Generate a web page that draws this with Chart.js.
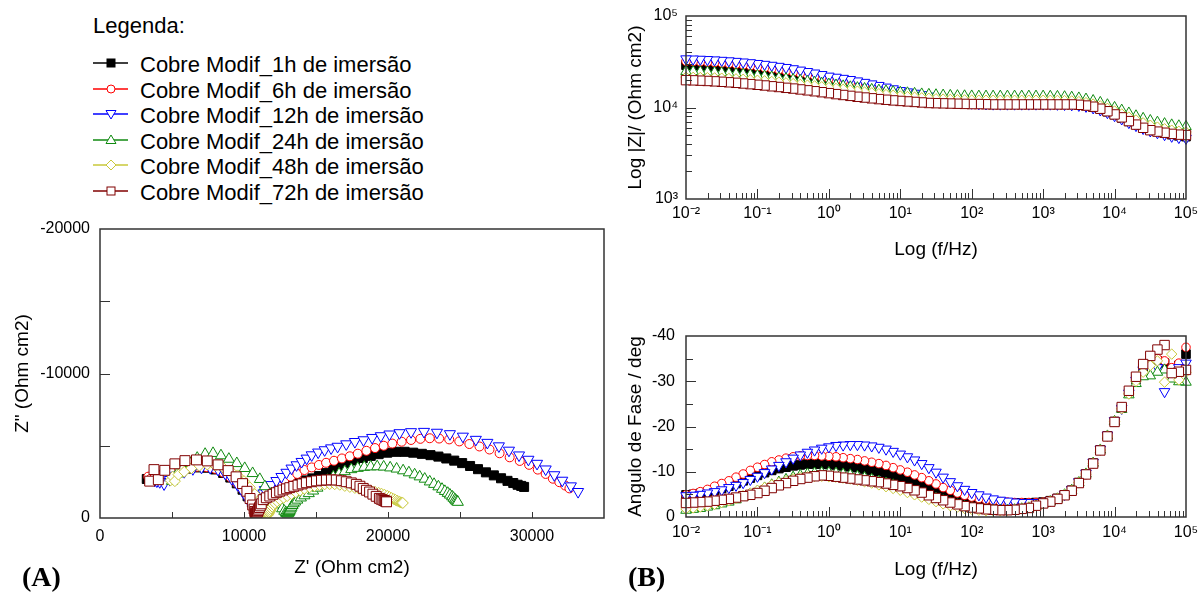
<!DOCTYPE html>
<html>
<head>
<meta charset="utf-8">
<script src="https://cdn.jsdelivr.net/npm/chart.js@4.4.1/dist/chart.umd.min.js"></script>
<style>
  body { margin: 0; width: 1198px; height: 592px; background: #fff; position: relative; overflow: hidden;
         font-family: "Liberation Sans", Arial, sans-serif; color: #000; }
  canvas { position: absolute; }
  .leg { position: absolute; height: 26px; line-height: 26px; font-size: 22px; white-space: nowrap; }
  .leg svg { position: absolute; left: 0; top: 1px; }
  .leg span { position: absolute; left: 47px; top: 0; }
  .tag { position: absolute; font: bold 28px "Liberation Serif", "Times New Roman", serif; line-height: 28px; }
</style>
</head>
<body>
<div id="legend"></div>
<canvas id="nyquist" width="620" height="387" style="left:0;top:205px"></canvas>
<canvas id="bodeMod" width="578" height="290" style="left:620px;top:0"></canvas>
<canvas id="bodePhase" width="578" height="292" style="left:620px;top:300px"></canvas>
<div class="tag" style="left:22px;top:563px">(A)</div>
<div class="tag" style="left:628px;top:563px">(B)</div>

<script>
// ---- series ----
const SERIES_LABELS = ['Cobre Modif_1h de imersão', 'Cobre Modif_6h de imersão', 'Cobre Modif_12h de imersão',
                       'Cobre Modif_24h de imersão', 'Cobre Modif_48h de imersão', 'Cobre Modif_72h de imersão'];
const SERIES_COLORS = ['#000000', '#ff0000', '#0000ff', '#108a10', '#c8c83a', '#800000'];
const SERIES_STYLES = ['rect', 'circle', 'triangle', 'triangle', 'rectRot', 'rect'];
const SERIES_ROTATION = [0, 0, 180, 0, 0, 0];
const SERIES_FILLED = [true, false, false, false, false, false];
const SERIES_RADIUS = [6.4, 4.5, 6.4, 6.4, 5.5, 7];

// ---- frequencies (Hz), high to low ----
const FREQ = [100000, 79430, 63100, 50120, 39810, 31620, 25120, 19950, 15850, 12590,
  10000, 7943, 6310, 5012, 3981, 3162, 2512, 1995, 1585, 1259,
  1000, 794.3, 631.0, 501.2, 398.1, 316.2, 251.2, 199.5, 158.5, 125.9,
  100, 79.43, 63.10, 50.12, 39.81, 31.62, 25.12, 19.95, 15.85, 12.59,
  10, 7.943, 6.310, 5.012, 3.981, 3.162, 2.512, 1.995, 1.585, 1.259,
  1, 0.7943, 0.6310, 0.5012, 0.3981, 0.3162, 0.2512, 0.1995, 0.1585, 0.1259,
  0.1, 0.07943, 0.06310, 0.05012, 0.03981, 0.03162, 0.02512, 0.01995, 0.01585, 0.01259,
  0.01];

// ---- |Z| (Ohm cm2) ----
const ZMOD_1H = [4800, 4900, 5050, 5250, 5500, 5750, 6100, 6550, 7050, 7700,
  8350, 9000, 9600, 10100, 10500, 10750, 10900, 11000, 11050, 11100,
  11100, 11100, 11100, 11100, 11100, 11100, 11100, 11150, 11150, 11200,
  11250, 11350, 11500, 11700, 11950, 12250, 12600, 13000, 13450, 13900,
  14400, 14950, 15500, 16050, 16650, 17250, 17850, 18450, 19050, 19700,
  20300, 20950, 21600, 22250, 22850, 23450, 24050, 24650, 25200, 25700,
  26200, 26650, 27050, 27400, 27750, 28050, 28300, 28500, 28700, 28850,
  29000];
const ZMOD_6H = [4800, 4900, 5050, 5250, 5500, 5750, 6100, 6550, 7050, 7700,
  8350, 9000, 9600, 10100, 10500, 10750, 10900, 11000, 11050, 11100,
  11100, 11100, 11100, 11100, 11100, 11100, 11100, 11100, 11150, 11200,
  11300, 11400, 11550, 11750, 12000, 12300, 12650, 13050, 13500, 14000,
  14500, 15050, 15600, 16200, 16800, 17400, 18050, 18700, 19350, 20000,
  20700, 21400, 22100, 22850, 23600, 24350, 25100, 25850, 26550, 27250,
  27900, 28550, 29150, 29700, 30200, 30650, 31050, 31350, 31600, 31800,
  32000];
const ZMOD_12H = [4600, 4700, 4850, 5050, 5300, 5550, 5900, 6350, 6850, 7500,
  8150, 8800, 9400, 9900, 10300, 10550, 10700, 10800, 10850, 10900,
  10900, 10900, 10900, 10900, 10900, 10900, 10900, 10900, 10950, 11000,
  11150, 11350, 11600, 11950, 12350, 12800, 13300, 13800, 14300, 14800,
  15300, 16000, 16700, 17400, 18100, 18800, 19500, 20200, 20800, 21400,
  22000, 22900, 23800, 24700, 25600, 26500, 27350, 28150, 28900, 29600,
  30250, 30850, 31400, 31900, 32350, 32750, 33100, 33400, 33650, 33850,
  34000];
const ZMOD_24H = [6200, 6300, 6450, 6650, 6900, 7200, 7600, 8100, 8700, 9350,
  10000, 10700, 11350, 11900, 12350, 12700, 12950, 13100, 13200, 13250,
  13300, 13300, 13300, 13300, 13300, 13300, 13300, 13300, 13300, 13300,
  13350, 13400, 13450, 13550, 13650, 13750, 13900, 14050, 14250, 14450,
  14650, 14900, 15150, 15450, 15750, 16100, 16450, 16800, 17200, 17600,
  18000, 18400, 18850, 19300, 19750, 20200, 20650, 21100, 21550, 22000,
  22400, 22800, 23150, 23450, 23750, 24000, 24200, 24400, 24550, 24700,
  24800];
const ZMOD_48H = [5400, 5500, 5650, 5850, 6100, 6400, 6800, 7300, 7850, 8500,
  9150, 9800, 10400, 10900, 11300, 11600, 11800, 11900, 11950, 12000,
  12000, 12000, 12000, 12000, 12000, 12000, 12000, 12000, 12000, 12000,
  12050, 12100, 12150, 12250, 12350, 12450, 12600, 12750, 12950, 13150,
  13350, 13600, 13850, 14150, 14450, 14750, 15100, 15450, 15800, 16150,
  16500, 16850, 17200, 17550, 17900, 18250, 18600, 18950, 19250, 19550,
  19850, 20100, 20350, 20550, 20750, 20900, 21050, 21150, 21250, 21350,
  21400];
const ZMOD_72H = [5000, 5050, 5150, 5300, 5450, 5650, 6000, 6500, 7100, 7800,
  8400, 9100, 9700, 10200, 10500, 10700, 10800, 10800, 10800, 10800,
  10800, 10800, 10800, 10800, 10800, 10800, 10800, 10800, 10850, 10900,
  10900, 10950, 11000, 11050, 11100, 11150, 11200, 11350, 11500, 11650,
  11800, 11950, 12150, 12350, 12600, 12850, 13100, 13400, 13700, 14000,
  14350, 14700, 15050, 15400, 15750, 16100, 16400, 16750, 17050, 17400,
  17700, 18000, 18300, 18600, 18850, 19100, 19300, 19500, 19650, 19800,
  19900];

// ---- phase angle (deg) ----
const PHASE_1H = [-36.0, -33.5, -32.5, -34.0, -34.5, -34.0, -32.8, -30.4, -27.5, -24.1,
  -21.1, -17.9, -14.8, -11.9, -9.5, -7.6, -5.9, -4.9, -4.1, -3.6,
  -3.3, -3.2, -3.1, -3.1, -3.1, -3.1, -3.1, -3.2, -3.3, -3.4,
  -3.6, -3.9, -4.2, -4.6, -5.1, -5.7, -6.3, -6.9, -7.5, -8.1,
  -8.6, -9.1, -9.6, -10.0, -10.3, -10.6, -10.9, -11.1, -11.3, -11.5,
  -11.6, -11.7, -11.7, -11.7, -11.5, -11.3, -11.0, -10.7, -10.3, -9.8,
  -9.2, -8.6, -8.0, -7.4, -6.8, -6.3, -5.9, -5.5, -5.2, -5.0,
  -4.9];
const PHASE_6H = [-37.5, -34.0, -33.0, -34.5, -35.0, -34.5, -33.0, -30.5, -27.6, -24.2,
  -21.1, -17.9, -14.8, -11.9, -9.5, -7.6, -5.9, -4.9, -4.1, -3.6,
  -3.3, -3.2, -3.2, -3.2, -3.2, -3.3, -3.4, -3.6, -3.8, -4.1,
  -4.4, -4.8, -5.3, -5.9, -6.5, -7.3, -8.0, -8.7, -9.3, -9.9,
  -10.4, -10.9, -11.4, -11.8, -12.1, -12.4, -12.7, -12.9, -13.1, -13.3,
  -13.4, -13.5, -13.6, -13.6, -13.5, -13.3, -13.0, -12.6, -12.2, -11.6,
  -11.0, -10.3, -9.5, -8.8, -8.0, -7.4, -6.8, -6.1, -5.6, -5.2,
  -4.9];
const PHASE_12H = [-34.0, -33.0, -31.5, -27.7, -33.0, -34.0, -32.5, -30.2, -27.4, -24.0,
  -21.3, -18.1, -15.0, -12.1, -9.7, -7.8, -6.1, -5.0, -4.2, -3.6,
  -3.3, -3.2, -3.2, -3.2, -3.3, -3.5, -3.7, -4.0, -4.4, -4.9,
  -5.4, -6.1, -6.9, -7.8, -8.8, -9.9, -10.9, -11.8, -12.6, -13.3,
  -13.9, -14.5, -15.0, -15.4, -15.7, -15.9, -16.0, -16.0, -15.9, -15.8,
  -15.5, -15.2, -14.8, -14.3, -13.7, -13.0, -12.2, -11.4, -10.6, -9.8,
  -9.0, -8.3, -7.6, -7.0, -6.5, -6.0, -5.6, -5.3, -5.0, -4.8,
  -4.7];
const PHASE_24H = [-29.8, -29.9, -30.5, -32.5, -32.0, -31.2, -31.0, -29.5, -27.0, -23.8,
  -21.1, -17.9, -14.8, -11.9, -9.5, -7.6, -5.9, -4.9, -4.0, -3.4,
  -2.9, -2.4, -2.0, -1.8, -1.6, -1.5, -1.5, -1.5, -1.6, -1.8,
  -2.0, -2.3, -2.7, -3.1, -3.6, -4.1, -4.6, -5.1, -5.6, -6.1,
  -6.6, -7.1, -7.5, -7.9, -8.3, -8.7, -9.0, -9.3, -9.5, -9.7,
  -9.8, -9.8, -9.7, -9.5, -9.2, -8.8, -8.3, -7.7, -7.1, -6.4,
  -5.7, -5.0, -4.4, -3.8, -3.3, -2.9, -2.5, -2.2, -1.9, -1.7,
  -1.5];
const PHASE_48H = [-32.0, -30.3, -36.0, -29.8, -34.5, -33.5, -32.0, -30.0, -27.2, -23.9,
  -21.1, -17.9, -14.8, -11.9, -9.5, -7.6, -5.9, -4.9, -4.1, -3.5,
  -3.0, -2.5, -2.1, -1.8, -1.6, -1.5, -1.4, -1.4, -1.4, -1.5,
  -1.7, -1.9, -2.2, -2.5, -2.9, -3.4, -3.9, -4.4, -4.9, -5.4,
  -5.9, -6.3, -6.7, -7.1, -7.5, -7.8, -8.1, -8.4, -8.6, -8.8,
  -8.9, -9.0, -9.0, -8.9, -8.7, -8.4, -8.0, -7.6, -7.1, -6.5,
  -5.9, -5.3, -4.7, -4.1, -3.6, -3.2, -2.8, -2.5, -2.2, -2.0,
  -1.8];
const PHASE_72H = [-32.5, -32.1, -31.8, -38.0, -37.0, -35.6, -33.8, -31.0, -27.9, -24.3,
  -21.0, -17.8, -14.7, -11.8, -9.4, -7.5, -5.8, -4.8, -4.0, -3.4,
  -3.0, -2.5, -2.0, -1.8, -1.6, -1.5, -1.5, -1.6, -1.7, -1.9,
  -2.1, -2.4, -2.8, -3.2, -3.7, -4.2, -4.8, -5.4, -5.9, -6.4,
  -6.8, -7.1, -7.4, -7.7, -7.9, -8.1, -8.3, -8.5, -8.7, -8.9,
  -9.1, -9.2, -9.0, -8.7, -8.4, -8.0, -7.5, -7.0, -6.4, -5.8,
  -5.3, -4.9, -4.6, -4.3, -4.0, -3.8, -3.6, -3.4, -3.3, -3.2,
  -3.1];

// ---- Nyquist: Z' and Z'' (Ohm cm2) ----
const NYQ_RE_1H = [3250, 3450, 3750, 4050, 4450, 4950, 5500, 6100, 6750, 7400,
  8000, 8550, 9050, 9500, 9900, 10250, 10550, 10750, 10880, 10950,
  11000, 11030, 11060, 11090, 11120, 11150, 11190, 11230, 11280, 11340,
  11410, 11500, 11620, 11760, 11950, 12250, 12600, 13000, 13400, 13850,
  14300, 14750, 15200, 15700, 16200, 16700, 17200, 17700, 18250, 18800,
  19350, 19950, 20550, 21150, 21750, 22350, 22950, 23500, 24050, 24600,
  25150, 25700, 26250, 26800, 27350, 27850, 28300, 28700, 29000, 29250,
  29450];
const NYQ_IM_1H = [-2700, -2650, -2720, -2850, -3000, -3150, -3300, -3420, -3500, -3480,
  -3360, -3120, -2800, -2400, -1960, -1500, -1080, -780, -600, -520,
  -500, -490, -500, -520, -560, -620, -700, -800, -910, -1030,
  -1150, -1280, -1420, -1570, -1720, -1880, -2020, -2160, -2300, -2450,
  -2600, -2740, -2900, -3120, -3350, -3580, -3800, -3980, -4150, -4300,
  -4420, -4520, -4580, -4580, -4520, -4440, -4350, -4250, -4120, -3970,
  -3800, -3600, -3380, -3160, -2950, -2750, -2570, -2420, -2300, -2220,
  -2150];
const NYQ_RE_6H = [3350, 3500, 3750, 4050, 4450, 4950, 5500, 6100, 6750, 7400,
  8000, 8550, 9050, 9500, 9900, 10250, 10550, 10750, 10880, 10950,
  11000, 11030, 11060, 11090, 11120, 11150, 11190, 11230, 11280, 11340,
  11410, 11500, 11620, 11760, 11950, 12350, 12800, 13250, 13700, 14200,
  14700, 15200, 15700, 16250, 16800, 17350, 17900, 18500, 19100, 19700,
  20300, 20950, 21600, 22250, 22900, 23550, 24250, 24950, 25650, 26350,
  27050, 27750, 28450, 29150, 29800, 30400, 30950, 31450, 31900, 32300,
  32600];
const NYQ_IM_6H = [-2860, -2700, -2750, -2900, -3050, -3200, -3350, -3480, -3550, -3520,
  -3400, -3150, -2820, -2420, -1980, -1500, -1080, -780, -600, -520,
  -500, -500, -520, -550, -600, -670, -760, -870, -1000, -1140,
  -1300, -1470, -1660, -1870, -2080, -2400, -2630, -2850, -3050, -3320,
  -3500, -3670, -3820, -3960, -4120, -4270, -4450, -4650, -4840, -5000,
  -5150, -5280, -5400, -5480, -5520, -5500, -5440, -5300, -5120, -4950,
  -4740, -4480, -4200, -3950, -3680, -3350, -3050, -2720, -2480, -2250,
  -2050];
const NYQ_RE_12H = [3800, 3950, 4150, 4450, 4850, 5300, 5850, 6450, 7050, 7650,
  8200, 8700, 9150, 9550, 9900, 10200, 10450, 10650, 10780, 10850,
  10880, 10900, 10920, 10940, 10960, 10990, 11020, 11060, 11100, 11150,
  11200, 11270, 11350, 11450, 11900, 12250, 12600, 12950, 13300, 13650,
  14000, 14350, 14700, 15150, 15600, 16050, 16500, 17100, 17700, 18300,
  18900, 19500, 20100, 20800, 21600, 22500, 23400, 24300, 25200, 26100,
  26900, 27700, 28400, 29100, 29750, 30350, 30950, 31550, 32100, 32700,
  33200];
const NYQ_IM_12H = [-2600, -2550, -2500, -2350, -2650, -2950, -3200, -3400, -3500, -3480,
  -3350, -3080, -2720, -2300, -1850, -1400, -1000, -720, -550, -480,
  -450, -450, -470, -500, -550, -620, -720, -840, -980, -1130,
  -1300, -1500, -1720, -1950, -2300, -2580, -2860, -3150, -3440, -3670,
  -3900, -4130, -4360, -4550, -4710, -4840, -4950, -5120, -5280, -5400,
  -5560, -5680, -5800, -5890, -5960, -5980, -5920, -5820, -5650, -5430,
  -5220, -4980, -4680, -4350, -4050, -3770, -3380, -2980, -2600, -2210,
  -1820];
const NYQ_RE_24H = [5000, 5100, 5350, 5750, 6250, 6750, 7300, 7850, 8400, 8950,
  9500, 10050, 10600, 11100, 11450, 11900, 12200, 12450, 12650, 12800,
  12900, 12950, 13000, 13030, 13060, 13090, 13120, 13160, 13200, 13250,
  13300, 13370, 13450, 13550, 13700, 13950, 14200, 14500, 14800, 15100,
  15450, 15800, 16200, 16600, 17000, 17450, 17900, 18350, 18800, 19250,
  19700, 20150, 20600, 21050, 21450, 21850, 22200, 22550, 22900, 23200,
  23500, 23750, 23950, 24150, 24300, 24450, 24550, 24650, 24720, 24800,
  24850];
const NYQ_IM_24H = [-2550, -2750, -3050, -3450, -3800, -4150, -4420, -4480, -4320, -4080,
  -3780, -3440, -3090, -2680, -2180, -1700, -1280, -920, -650, -480,
  -380, -330, -300, -300, -320, -350, -400, -470, -550, -650,
  -760, -880, -1000, -1120, -1250, -1400, -1550, -1700, -1880, -2080,
  -2350, -2620, -2860, -3050, -3220, -3360, -3450, -3520, -3550, -3560,
  -3540, -3480, -3400, -3280, -3140, -3000, -2860, -2700, -2510, -2340,
  -2170, -2000, -1850, -1720, -1600, -1480, -1380, -1280, -1200, -1140,
  -1100];
const NYQ_RE_48H = [4900, 5050, 5200, 5450, 5850, 6350, 6900, 7450, 8000, 8550,
  9050, 9550, 10000, 10400, 10750, 11000, 11200, 11350, 11450, 11520,
  11560, 11580, 11600, 11620, 11640, 11670, 11700, 11740, 11780, 11830,
  11890, 11960, 12050, 12150, 12300, 12500, 12750, 13000, 13300, 13600,
  13900, 14200, 14550, 14900, 15250, 15600, 15950, 16300, 16650, 17000,
  17350, 17700, 18000, 18300, 18600, 18850, 19100, 19350, 19550, 19750,
  19950, 20100, 20250, 20400, 20520, 20630, 20730, 20820, 20900, 20970,
  21030];
const NYQ_IM_48H = [-2600, -2850, -2550, -3000, -3200, -3450, -3620, -3700, -3620, -3480,
  -3280, -2950, -2550, -2120, -1650, -1200, -820, -550, -380, -280,
  -220, -190, -180, -190, -210, -250, -300, -370, -450, -550,
  -660, -780, -900, -1020, -1150, -1270, -1400, -1520, -1650, -1780,
  -1900, -2020, -2120, -2210, -2280, -2330, -2350, -2340, -2300, -2220,
  -2150, -2080, -2020, -1970, -1920, -1870, -1810, -1740, -1680, -1610,
  -1530, -1450, -1380, -1310, -1250, -1200, -1150, -1110, -1080, -1060,
  -1040];
const NYQ_RE_72H = [3450, 3750, 4050, 4500, 5200, 5900, 6700, 7450, 8200, 8900,
  9450, 9900, 10200, 10420, 10600, 10700, 10750, 10780, 10800, 10800,
  10800, 10800, 10810, 10820, 10840, 10860, 10880, 10910, 10940, 10980,
  11020, 11070, 11130, 11200, 11330, 11550, 11790, 12020, 12250, 12480,
  12710, 12950, 13180, 13460, 13750, 14040, 14330, 14680, 15030, 15380,
  15720, 16070, 16410, 16760, 17100, 17450, 17800, 18050, 18280, 18500,
  18720, 18950, 19180, 19400, 19520, 19640, 19730, 19800, 19850, 19880,
  19900];
const NYQ_IM_72H = [-2550, -3350, -2650, -3300, -3750, -3970, -4020, -3950, -3680, -3280,
  -2850, -2380, -1850, -1350, -900, -620, -450, -360, -300, -260,
  -240, -220, -210, -210, -230, -260, -300, -360, -430, -510,
  -610, -720, -840, -980, -1270, -1400, -1520, -1640, -1750, -1850,
  -1940, -2020, -2100, -2190, -2280, -2360, -2440, -2510, -2570, -2610,
  -2630, -2640, -2630, -2580, -2510, -2430, -2330, -2200, -2050, -1920,
  -1800, -1650, -1500, -1360, -1300, -1250, -1210, -1180, -1160, -1140,
  -1120];

// ---- axes ----
const NYQ_X_TICKS = [0, 5000, 10000, 15000, 20000, 25000, 30000, 35000];
const NYQ_X_LABELS = ['0', '', '10000', '', '20000', '', '30000', ''];
const NYQ_Y_TICKS = [-20000, -15000, -10000, -5000, 0];
const NYQ_Y_LABELS = ['-20000', '', '-10000', '', '0'];
const FREQ_DECADES = [0.01, 0.1, 1, 10, 100, 1000, 10000, 100000];
const FREQ_LABELS = ['10⁻²', '10⁻¹', '10⁰', '10¹', '10²', '10³', '10⁴', '10⁵'];
const ZMOD_DECADES = [1000, 10000, 100000];
const ZMOD_LABELS = ['10³', '10⁴', '10⁵'];
const PHASE_TICKS = [-40, -35, -30, -25, -20, -15, -10, -5, 0];
const PHASE_LABELS = ['-40', '', '-30', '', '-20', '', '-10', '', '0'];

const ZMOD = [ZMOD_1H, ZMOD_6H, ZMOD_12H, ZMOD_24H, ZMOD_48H, ZMOD_72H];
const PHASE = [PHASE_1H, PHASE_6H, PHASE_12H, PHASE_24H, PHASE_48H, PHASE_72H];
const NYQ_RE = [NYQ_RE_1H, NYQ_RE_6H, NYQ_RE_12H, NYQ_RE_24H, NYQ_RE_48H, NYQ_RE_72H];
const NYQ_IM = [NYQ_IM_1H, NYQ_IM_6H, NYQ_IM_12H, NYQ_IM_24H, NYQ_IM_48H, NYQ_IM_72H];

Chart.defaults.font.family = '"Liberation Sans", Arial, sans-serif';
Chart.defaults.font.size = 16;
Chart.defaults.color = '#000';

// minor log ticks between the decades
function withMinors(decades) {
  const out = [];
  decades.forEach((d, k) => {
    out.push(d);
    if (k < decades.length - 1) {
      for (let m = 2; m <= 9; m++) out.push(+(d * m).toPrecision(6));
    }
  });
  return out;
}
function isDecade(v) {
  const l = Math.log10(v);
  return Math.abs(l - Math.round(l)) < 1e-9;
}
function labelFrom(values, labels) {
  return v => {
    const k = values.findIndex(d => Math.abs(d - v) <= Math.abs(d) * 1e-6 + 1e-9);
    return k >= 0 ? labels[k] : '';
  };
}

// tick marks drawn inside the frame, as in the original figure
function insideTicks(spec) {
  return {
    id: 'insideTicks',
    afterDraw(chart) {
      const {ctx, chartArea: a, scales} = chart;
      ctx.save();
      ctx.strokeStyle = '#333';
      ctx.lineWidth = 1;
      scales.x.ticks.forEach(t => {
        const px = Math.round(scales.x.getPixelForValue(t.value)) + 0.5;
        if (px <= a.left + 1 || px >= a.right - 1) return;
        const len = spec.xLen(t.value);
        ctx.beginPath();
        ctx.moveTo(px, a.bottom);
        ctx.lineTo(px, a.bottom - len);
        ctx.stroke();
      });
      scales.y.ticks.forEach(t => {
        const py = Math.round(scales.y.getPixelForValue(t.value)) + 0.5;
        if (py <= a.top + 1 || py >= a.bottom - 1) return;
        const len = spec.yLen(t.value);
        ctx.beginPath();
        ctx.moveTo(a.left, py);
        ctx.lineTo(a.left + len, py);
        ctx.stroke();
      });
      ctx.lineWidth = 1.5;
      ctx.strokeRect(a.left, a.top, a.right - a.left, a.bottom - a.top);
      ctx.restore();
    }
  };
}

function markerStyle(i, scale) {
  return {
    showLine: false,
    pointStyle: SERIES_STYLES[i],
    pointRotation: SERIES_ROTATION[i],
    pointRadius: SERIES_RADIUS[i] * scale,
    pointBorderWidth: 1,
    pointBorderColor: SERIES_COLORS[i],
    pointBackgroundColor: SERIES_FILLED[i] ? SERIES_COLORS[i] : '#ffffff',
    order: SERIES_LABELS.length - i
  };
}

function axisBase(extra) {
  return Object.assign({
    grid: {display: false, drawTicks: false},
    border: {display: false}
  }, extra);
}

function common(padding, scales) {
  return {
    responsive: false, animation: false, devicePixelRatio: 1, events: [],
    layout: {padding},
    plugins: {legend: {display: false}, tooltip: {enabled: false}},
    scales
  };
}

function xFit(h) { return s => { s.height = h; s.paddingLeft = 0; s.paddingRight = 0; }; }
function yFit(w) { return s => { s.width = w; s.paddingTop = 0; s.paddingBottom = 0; }; }

// ---- panel A: Nyquist ----
new Chart(document.getElementById('nyquist'), {
  type: 'scatter',
  data: {
    datasets: SERIES_LABELS.map((label, i) => Object.assign({
      label,
      data: NYQ_RE[i].map((x, k) => ({x, y: NYQ_IM[i][k]})),
      clip: {left: 8, top: 8, right: 8, bottom: 0}
    }, markerStyle(i, 1)))
  },
  options: common({top: 24, right: 16, left: 0, bottom: 0}, {
    x: axisBase({
      type: 'linear', position: 'bottom', min: 0, max: 35000,
      afterBuildTicks: s => { s.ticks = NYQ_X_TICKS.map(value => ({value})); },
      afterFit: xFit(74),
      ticks: {autoSkip: false, maxRotation: 0, minRotation: 0, padding: 9,
              callback: labelFrom(NYQ_X_TICKS, NYQ_X_LABELS)},
      title: {display: true, text: "Z' (Ohm cm2)", font: {size: 19}, padding: {top: 0, bottom: 12.6}}
    }),
    y: axisBase({
      type: 'linear', position: 'left', min: -20000, max: 0, reverse: true,
      afterBuildTicks: s => { s.ticks = NYQ_Y_TICKS.map(value => ({value})); },
      afterFit: yFit(100),
      ticks: {autoSkip: false, padding: 10, callback: labelFrom(NYQ_Y_TICKS, NYQ_Y_LABELS)},
      title: {display: true, text: 'Z" (Ohm cm2)', font: {size: 19}, padding: {top: 11, bottom: 0}}
    })
  }),
  plugins: [insideTicks({xLen: () => 6, yLen: () => 10})]
});

// ---- panel B: Bode modulus ----
const FREQ_TICKS = withMinors(FREQ_DECADES);
const ZMOD_TICKS = withMinors(ZMOD_DECADES);

function freqAxis(height, pad, titlePad) {
  return axisBase({
    type: 'logarithmic', position: 'bottom', min: 0.01, max: 100000,
    afterBuildTicks: s => { s.ticks = FREQ_TICKS.map(value => ({value})); },
    afterFit: xFit(height),
    ticks: {autoSkip: false, maxRotation: 0, minRotation: 0, padding: pad,
            callback: labelFrom(FREQ_DECADES, FREQ_LABELS)},
    title: {display: true, text: 'Log (f/Hz)', font: {size: 19}, padding: {top: 0, bottom: titlePad}}
  });
}

new Chart(document.getElementById('bodeMod'), {
  type: 'scatter',
  data: {
    datasets: SERIES_LABELS.map((label, i) => Object.assign({
      label,
      data: FREQ.map((x, k) => ({x, y: ZMOD[i][k]})),
      clip: 8
    }, markerStyle(i, 0.95)))
  },
  options: common({top: 16, right: 12, left: 0, bottom: 0}, {
    x: freqAxis(91, 5, 28.6),
    y: axisBase({
      type: 'logarithmic', position: 'left', min: 1000, max: 100000,
      afterBuildTicks: s => { s.ticks = ZMOD_TICKS.map(value => ({value})); },
      afterFit: yFit(66),
      ticks: {autoSkip: false, padding: 8, callback: labelFrom(ZMOD_DECADES, ZMOD_LABELS)},
      title: {display: true, text: 'Log |Z|/ (Ohm cm2)', font: {size: 19}, padding: {top: 4.6, bottom: 0}}
    })
  }),
  plugins: [insideTicks({xLen: v => isDecade(v) ? 10 : 6, yLen: v => isDecade(v) ? 10 : 6})]
});

// ---- panel B: Bode phase ----
new Chart(document.getElementById('bodePhase'), {
  type: 'scatter',
  data: {
    datasets: SERIES_LABELS.map((label, i) => Object.assign({
      label,
      data: FREQ.map((x, k) => ({x, y: PHASE[i][k]})),
      clip: 8
    }, markerStyle(i, 0.95)))
  },
  options: common({top: 36, right: 12, left: 0, bottom: 0}, {
    x: freqAxis(75, 6, 10.6),
    y: axisBase({
      type: 'linear', position: 'left', min: -40, max: 0, reverse: true,
      afterBuildTicks: s => { s.ticks = PHASE_TICKS.map(value => ({value})); },
      afterFit: yFit(66),
      ticks: {autoSkip: false, padding: 11, callback: labelFrom(PHASE_TICKS, PHASE_LABELS)},
      title: {display: true, text: 'Angulo de Fase / deg', font: {size: 19}, padding: {top: 4.6, bottom: 0}}
    })
  }),
  plugins: [insideTicks({xLen: v => isDecade(v) ? 10 : 6, yLen: v => v % 10 === 0 ? 10 : 7})]
});

// ---- legend ----
function legendSymbol(i) {
  const c = SERIES_COLORS[i];
  const fill = SERIES_FILLED[i] ? c : '#ffffff';
  const cx = 18, cy = 10;
  let shape;
  if (SERIES_STYLES[i] === 'rect') {
    shape = `<rect x="${cx - 4}" y="${cy - 4}" width="8" height="8" fill="${fill}" stroke="${c}" stroke-width="1"/>`;
  } else if (SERIES_STYLES[i] === 'circle') {
    shape = `<circle cx="${cx}" cy="${cy}" r="4" fill="${fill}" stroke="${c}" stroke-width="1"/>`;
  } else if (SERIES_STYLES[i] === 'triangle') {
    const pts = SERIES_ROTATION[i] === 180
      ? [[cx - 5, cy - 3.5], [cx + 5, cy - 3.5], [cx, cy + 5]]
      : [[cx - 5, cy + 3.5], [cx + 5, cy + 3.5], [cx, cy - 5]];
    shape = `<polygon points="${pts.map(p => p.join(',')).join(' ')}" fill="${fill}" stroke="${c}" stroke-width="1"/>`;
  } else {
    shape = `<polygon points="${cx},${cy - 5} ${cx + 5},${cy} ${cx},${cy + 5} ${cx - 5},${cy}" fill="${fill}" stroke="${c}" stroke-width="1"/>`;
  }
  return `<svg width="36" height="20"><line x1="0" y1="${cy}" x2="35" y2="${cy}" stroke="${c}" stroke-width="1.3"/>${shape}</svg>`;
}

const legend = document.getElementById('legend');
const title = document.createElement('div');
title.className = 'leg';
title.style.left = '93px';
title.style.top = '13px';
title.textContent = 'Legenda:';
legend.appendChild(title);
SERIES_LABELS.forEach((label, i) => {
  const row = document.createElement('div');
  row.className = 'leg';
  row.style.left = '93px';
  row.style.top = (52 + i * 25.5) + 'px';
  row.innerHTML = legendSymbol(i) + '<span></span>';
  row.querySelector('span').textContent = label;
  legend.appendChild(row);
});
</script>
</body>
</html>
